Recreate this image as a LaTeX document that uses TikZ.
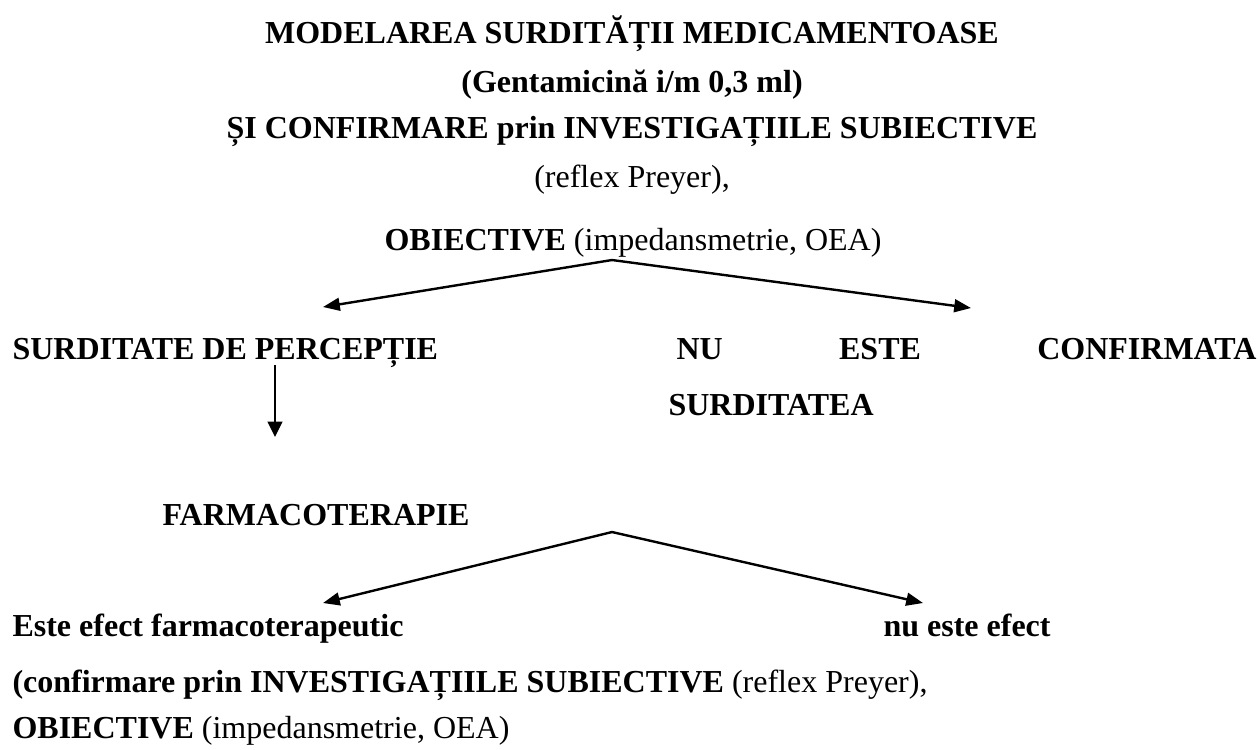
\documentclass[tikz,border=0pt]{standalone}
\usepackage{fontspec}
\setmainfont{Liberation Serif}
\usetikzlibrary{arrows.meta}
\begin{document}
\begin{tikzpicture}[x=0.375pt, y=-0.375pt,
  txt/.style={inner sep=0pt, anchor=base, font=\fontsize{12}{14}\selectfont},
  txtl/.style={txt, anchor=base west},
  branch/.style={line width=0.9pt, -{Triangle[length=6.3pt,width=4.8pt]}},
  down/.style={line width=0.65pt, -{Triangle[length=5.8pt,width=5.6pt]}}]
\useasboundingbox (0,0) rectangle (1260,749);
% title block
\node[txt] (t1) at (632,43) {\bfseries MODELAREA SURDITĂȚII MEDICAMENTOASE};
\node[txt] (t2) at (632,92) {\bfseries (Gentamicină i/m 0,3 ml)};
\node[txt] (t3) at (632,138) {\bfseries ȘI CONFIRMARE prin INVESTIGAȚIILE SUBIECTIVE};
\node[txt] (t4) at (632,187) {(reflex Preyer),};
\node[txt] (t5) at (633,250) {\textbf{OBIECTIVE} (impedansmetrie, OEA)};
% first branching
\coordinate (a1) at (612,260);
\coordinate (l1) at (323,307);
\coordinate (r1) at (971,308);
\draw[branch] (a1) -- (l1);
\draw[branch] (a1) -- (r1);
\node[txtl] (sp) at (12,359) {\bfseries SURDITATE DE PERCEPȚIE};
\node[txtl] (nu) at (676,359) {\bfseries\makebox[217.5pt][s]{NU\hfill ESTE\hfill CONFIRMATA}};
\node[txtl] (nu2) at (668,415) {\bfseries SURDITATEA};
% down arrow
\coordinate (d0) at (275,365);
\coordinate (d1) at (275,437);
\draw[down] (d0) -- (d1);
\node[txtl] (fa) at (162,525) {\bfseries FARMACOTERAPIE};
% second branching
\coordinate (a2) at (612,532);
\coordinate (l2) at (323,603);
\coordinate (r2) at (923,603);
\draw[branch] (a2) -- (l2);
\draw[branch] (a2) -- (r2);
\node[txtl] (ef) at (12,636) {\bfseries Este efect farmacoterapeutic};
\node[txtl] (ne) at (883,636) {\bfseries nu este efect};
\node[txtl] (c1) at (12,692) {\textbf{(confirmare prin INVESTIGAȚIILE SUBIECTIVE} (reflex Preyer),};
\node[txtl] (c2) at (12,738) {\textbf{OBIECTIVE} (impedansmetrie, OEA)};
\end{tikzpicture}
\end{document}
